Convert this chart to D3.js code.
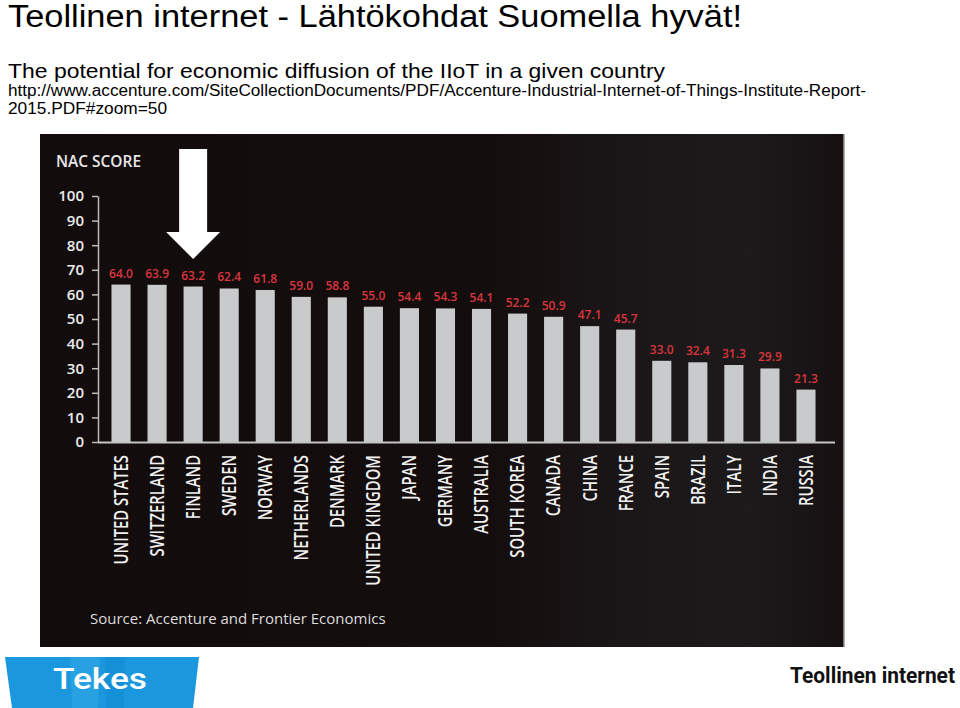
<!DOCTYPE html>
<html>
<head>
  <meta charset="utf-8">
  <title>Teollinen internet - NAC score</title>
  <script src="https://d3js.org/d3.v7.min.js"></script>
  <style>
    body { margin: 0; background: #fff; }
    svg { display: block; }
  </style>
</head>
<body>
  <svg width="960" height="708"></svg>

  <script>
    // Data
    const countries = [
      "UNITED STATES", "SWITZERLAND", "FINLAND", "SWEDEN", "NORWAY",
      "NETHERLANDS", "DENMARK", "UNITED KINGDOM", "JAPAN", "GERMANY",
      "AUSTRALIA", "SOUTH KOREA", "CANADA", "CHINA", "FRANCE",
      "SPAIN", "BRAZIL", "ITALY", "INDIA", "RUSSIA"
    ];
    const scores = [
      64.0, 63.9, 63.2, 62.4, 61.8, 59.0, 58.8, 55.0, 54.4, 54.3,
      54.1, 52.2, 50.9, 47.1, 45.7, 33.0, 32.4, 31.3, 29.9, 21.3
    ];
    const yTicks = [0, 10, 20, 30, 40, 50, 60, 70, 80, 90, 100];
    const highlighted = "FINLAND";

    const data = countries.map((c, i) => ({ country: c, score: scores[i] }));

    const svg = d3.select("svg");
    const slideFont = "Liberation Sans, Arial, sans-serif";

    // Slide texts (the slide is slightly stretched horizontally, hence textLength)
    function slideText(txt, xPos, yPos, size, len) {
      svg.append("text")
        .attr("x", xPos).attr("y", yPos)
        .attr("font-family", slideFont)
        .attr("font-size", size)
        .attr("fill", "#000")
        .attr("textLength", len)
        .attr("lengthAdjust", "spacingAndGlyphs")
        .text(txt);
    }
    slideText("Teollinen internet - Lähtökohdat Suomella hyvät!", 8, 27, 31, 734);
    slideText("The potential for economic diffusion of the IIoT in a given country", 8, 78, 21, 657);
    slideText("http://www.accenture.com/SiteCollectionDocuments/PDF/Accenture-Industrial-Internet-of-Things-Institute-Report-", 8, 96, 16, 858);
    slideText("2015.PDF#zoom=50", 8, 114, 16, 159);

    // Dark chart panel
    const defs = svg.append("defs");
    const grad = defs.append("linearGradient")
      .attr("id", "panelShade")
      .attr("x1", "0%").attr("x2", "100%");
    grad.append("stop").attr("offset", "0%").attr("stop-color", "#130c0d");
    grad.append("stop").attr("offset", "55%").attr("stop-color", "#140d0e");
    grad.append("stop").attr("offset", "75%").attr("stop-color", "#1b1718");
    grad.append("stop").attr("offset", "88%").attr("stop-color", "#1d1a1b");
    grad.append("stop").attr("offset", "100%").attr("stop-color", "#161011");

    svg.append("rect")
      .attr("x", 40).attr("y", 134)
      .attr("width", 804).attr("height", 513)
      .attr("fill", "url(#panelShade)");
    svg.append("line")
      .attr("x1", 844).attr("x2", 844)
      .attr("y1", 134).attr("y2", 647)
      .attr("stroke", "#9a9a9a")
      .attr("stroke-width", 1.5);

    // Scales
    const x = d3.scaleBand()
      .domain(countries)
      .range([103, 824])
      .paddingInner(0.47)
      .paddingOuter(0.235);

    const y = d3.scaleLinear()
      .domain([0, 100])
      .range([442, 196]);

    const chartFont = "'Open Sans', sans-serif";

    // NAC SCORE title
    svg.append("text")
      .attr("x", 56).attr("y", 167)
      .attr("font-family", chartFont)
      .attr("font-weight", 600)
      .attr("font-size", 16)
      .attr("fill", "#e8e8e8")
      .attr("textLength", 85)
      .attr("lengthAdjust", "spacingAndGlyphs")
      .text("NAC SCORE");

    // Y axis
    const yAxis = svg.append("g")
      .attr("transform", "translate(98,0)")
      .call(d3.axisLeft(y).tickValues(yTicks).tickSize(6).tickSizeOuter(0).tickPadding(8));
    yAxis.select(".domain").attr("stroke", "#bdbdbd").attr("stroke-width", 1.5);
    yAxis.selectAll(".tick line").attr("stroke", "#bdbdbd").attr("stroke-width", 1.5);
    yAxis.selectAll(".tick text")
      .attr("fill", "#ececec")
      .attr("font-family", chartFont)
      .attr("font-weight", 600)
      .attr("font-size", 15);

    // Bars
    svg.append("g")
      .selectAll("rect")
      .data(data)
      .join("rect")
      .attr("x", d => x(d.country))
      .attr("y", d => y(d.score))
      .attr("width", x.bandwidth())
      .attr("height", d => y(0) - y(d.score))
      .attr("fill", "#c9cacc");

    // X baseline
    svg.append("line")
      .attr("x1", 98).attr("x2", 835)
      .attr("y1", y(0) + 0.5).attr("y2", y(0) + 0.5)
      .attr("stroke", "#c4c4c4")
      .attr("stroke-width", 2);

    // Value labels
    svg.append("g")
      .selectAll("text")
      .data(data)
      .join("text")
      .attr("x", d => x(d.country) + x.bandwidth() / 2)
      .attr("y", d => y(d.score) - 7)
      .attr("text-anchor", "middle")
      .attr("font-family", chartFont)
      .attr("font-weight", 600)
      .attr("font-size", 12)
      .attr("fill", "#d9363c")
      .text(d => d.score.toFixed(1));

    // Country labels (rotated, condensed)
    svg.append("g")
      .selectAll("text")
      .data(data)
      .join("text")
      .attr("transform", d => `translate(${x(d.country) + x.bandwidth() / 2},455) rotate(-90) scale(0.78,1)`)
      .attr("text-anchor", "end")
      .attr("dy", "0.36em")
      .attr("font-family", chartFont)
      .attr("font-weight", 600)
      .attr("font-size", 19)
      .attr("fill", "#f0f0f0")
      .text(d => d.country);

    // Arrow pointing at Finland
    const ax = x(highlighted) + x.bandwidth() / 2;
    svg.append("path")
      .attr("d", d3.line()([
        [ax - 14, 149], [ax + 14, 149], [ax + 14, 232], [ax + 27, 232],
        [ax, 259], [ax - 27, 232], [ax - 14, 232]
      ]) + "Z")
      .attr("fill", "#ffffff");

    // Source
    svg.append("text")
      .attr("x", 90).attr("y", 624)
      .attr("font-family", chartFont)
      .attr("font-size", 15)
      .attr("fill", "#dcdcdc")
      .text("Source: Accenture and Frontier Economics");

    // Tekes logo
    const logo = svg.append("g");
    logo.append("path")
      .attr("d", "M5,657 L199,657 L193,708 L12,708 Z")
      .attr("fill", "#1b97dd");
    logo.append("path")
      .attr("d", "M70,657 L100,657 L98,708 L72,708 Z")
      .attr("fill", "#3aaeea").attr("opacity", 0.45);
    logo.append("path")
      .attr("d", "M105,657 L125,657 L124,708 L106,708 Z")
      .attr("fill", "#0f88d0").attr("opacity", 0.5);
    logo.append("text")
      .attr("x", 53).attr("y", 689)
      .attr("font-family", "Roboto, sans-serif")
      .attr("font-weight", 500)
      .attr("font-size", 29)
      .attr("fill", "#fff")
      .attr("textLength", 94)
      .attr("lengthAdjust", "spacingAndGlyphs")
      .text("Tekes");

    svg.append("text")
      .attr("transform", "translate(790,683) scale(1,1.16)")
      .attr("font-family", "Roboto, sans-serif")
      .attr("font-weight", 700)
      .attr("font-size", 19)
      .attr("fill", "#111")
      .attr("textLength", 165)
      .attr("lengthAdjust", "spacingAndGlyphs")
      .text("Teollinen internet");
  </script>
</body>
</html>
